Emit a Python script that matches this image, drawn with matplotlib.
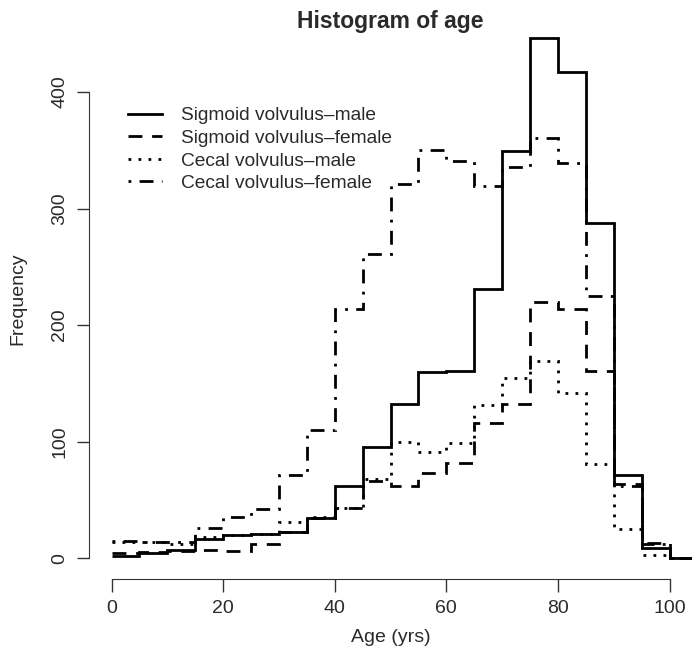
import numpy as np
import matplotlib.pyplot as plt

plt.rcParams['font.family'] = ['Liberation Sans', 'DejaVu Sans']

# bins of 5 years, 0 .. 105
edges = np.arange(0, 110, 5)

# counts per bin
sig_male = [2, 4, 7, 16, 20, 21, 22, 34, 62, 95, 132, 160, 161, 231, 349, 446, 417, 288, 71, 9, 0]
sig_female = [4, 5, 6, 7, 6, 12, 22, 34, 43, 66, 62, 73, 82, 116, 132, 220, 214, 161, 64, 13, 0]
cec_male = [14, 14, 12, 18, 20, 21, 31, 35, 43, 68, 100, 91, 99, 131, 155, 169, 142, 81, 25, 3, 0]
cec_female = [15, 14, 14, 26, 35, 42, 71, 110, 214, 261, 321, 350, 341, 319, 336, 361, 339, 225, 62, 12, 0]

labels = ["Sigmoid volvulus\u2013male", "Sigmoid volvulus\u2013female",
          "Cecal volvulus\u2013male", "Cecal volvulus\u2013female"]

txt = "#2a2a2a"

fig = plt.figure(figsize=(6.93, 6.55), dpi=100)
ax = fig.add_axes([0.1287, 0.1163, 0.8696, 0.8566])

lw = 2.0
ax.stairs(sig_male, edges, baseline=None, color="black", lw=lw, ls="-", label=labels[0])
ax.stairs(sig_female, edges, baseline=None, color="black", lw=lw, ls=(0, (5, 3.5)), label=labels[1])
ax.stairs(cec_male, edges, baseline=None, color="black", lw=lw, ls=(0, (1, 2.6)), label=labels[2])
ax.stairs(cec_female, edges, baseline=None, color="black", lw=lw, ls=(0, (1, 3, 5, 3)), label=labels[3])

ax.set_xlim(-4, 104)
ax.set_ylim(-17.8, 463.8)

# R style axes
for s in ["top", "right"]:
    ax.spines[s].set_visible(False)
ax.spines["left"].set_bounds(0, 400)
ax.spines["bottom"].set_bounds(0, 100)
ax.spines["left"].set_color("#333333")
ax.spines["bottom"].set_color("#333333")
ax.set_xticks([0, 20, 40, 60, 80, 100])
ax.set_yticks([0, 100, 200, 300, 400])
ax.tick_params(length=9, width=1, colors="#333333", labelsize=14, labelcolor=txt, pad=6)
for t in ax.get_yticklabels():
    t.set_rotation(90)
    t.set_va("center")

ax.set_xlabel("Age (yrs)", fontsize=14, color=txt)
ax.set_ylabel("Frequency", fontsize=14, color=txt)
ax.xaxis.set_label_coords(0.5, -0.1037)
ax.yaxis.set_label_coords(-0.118, 0.5)
ax.xaxis.label.set_va("center")
ax.yaxis.label.set_va("center")
ax.text(0.5, 0.993, "Histogram of age", transform=ax.transAxes, ha="center", va="center",
        fontsize=16.5, fontweight="bold", color=txt)

ax.legend(loc="upper left", bbox_to_anchor=(128 / 693, 1 - 107 / 655), bbox_transform=fig.transFigure,
          frameon=False, fontsize=13.8, handlelength=1.75, handletextpad=1.0, labelspacing=0.27,
          borderaxespad=0, borderpad=0, labelcolor=txt)

fig.savefig("out.png", dpi=100)
